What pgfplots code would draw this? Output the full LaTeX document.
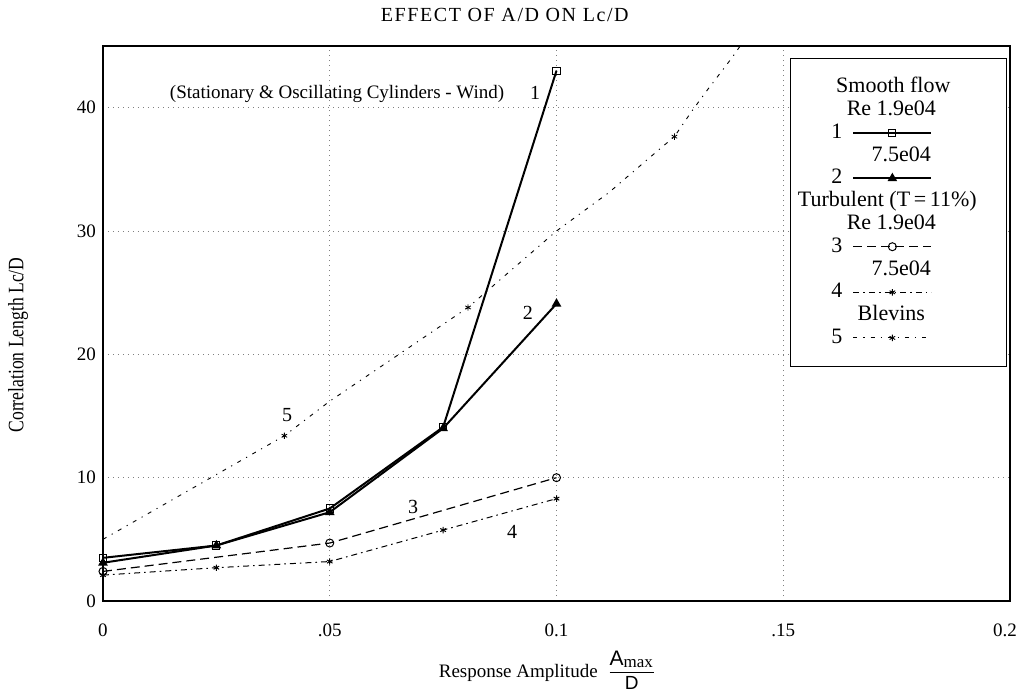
\documentclass[border=0pt]{standalone}
\usepackage{fontspec}
\setmainfont{Liberation Serif}
\setsansfont{Liberation Sans}
\newfontfamily\condfont[FakeStretch=0.8]{Liberation Serif}
\newfontfamily\titlefont[LetterSpace=8]{Liberation Serif}
\usepackage{pgfplots}
\pgfplotsset{compat=1.18}
\begin{document}
\begin{tikzpicture}
\useasboundingbox (-51.5pt,-45pt) rectangle (457.5pt,300.5pt);
\begin{axis}[
  at={(0pt,0pt)}, anchor=south west,
  scale only axis, width=453.5pt, height=277.5pt,
  xmin=0, xmax=0.2, ymin=0, ymax=45,
  xtick={0,0.05,0.1,0.15,0.2}, xticklabels={0,.05,0.1,.15,\hspace*{-5pt}0.2},
  ytick={0,10,20,30,40},
  grid=major,
  grid style={black!50, line width=0.45pt, dash pattern=on 0.5pt off 2pt},
  major tick length=0pt,
  axis line style={line width=0.8pt},
  /pgf/number format/assume math mode=true,
  tick label style={font=\fontsize{9.5}{11}\selectfont},
  xticklabel style={yshift=-8pt},
  clip=false,
  legend plot pos=right,
  legend cell align=left,
  legend style={at={(0.7574,0.978)}, anchor=north west, draw=black, fill=white,
    inner xsep=0pt, inner ysep=9pt, row sep=0.9pt, column sep=5pt,
    nodes={inner sep=0pt, text height=8pt, text depth=2.5pt, font=\fontsize{11}{12}\selectfont}},
  legend image code/.code={\draw[mark repeat=2,mark phase=2,#1] plot coordinates {(0pt,0pt) (19.5pt,0pt) (39pt,0pt)}; \path[draw=none] (0pt,0pt) -- (76.5pt,0pt);},
]
% Series 1: smooth flow Re 1.9e04
\addplot[black, line width=1pt, mark=square, mark size=1.8pt, mark options={solid, line width=0.5pt, fill=white}, forget plot]
  coordinates {(0,3.5) (0.025,4.5) (0.05,7.5) (0.075,14.1) (0.1,43.0)};
% Series 2: smooth flow Re 7.5e04
\addplot[black, line width=1pt, mark=triangle*, mark size=1.8pt, mark options={solid}, forget plot]
  coordinates {(0,3.1) (0.025,4.5) (0.05,7.2) (0.075,14.0) (0.1,24.1)};
% Series 3: turbulent Re 1.9e04
\addplot[black, line width=0.6pt, dash pattern=on 4.5pt off 2.5pt, mark=o, mark size=2pt, mark options={solid, fill=white, line width=0.5pt}, forget plot]
  coordinates {(0,2.4) (0.05,4.7) (0.1,10.0)};
% Series 4: turbulent Re 7.5e04
\addplot[black, line width=0.5pt, dash pattern=on 3pt off 2pt on 0.8pt off 2pt, mark=asterisk, mark size=1.6pt, mark options={solid}, forget plot]
  coordinates {(0,2.1) (0.025,2.7) (0.05,3.2) (0.075,5.75) (0.1,8.3)};
% Series 5: Blevins
\addplot[black, line width=0.45pt, dash pattern=on 2pt off 3pt on 0.6pt off 3pt, forget plot]
  coordinates {(0,5.0) (0.04,13.4) (0.05,16.2) (0.0805,23.8) (0.1,30.0) (0.1115,33.1) (0.1226,36.6) (0.126,37.65) (0.130,39.8) (0.1334,41.5) (0.1387,44.05) (0.1405,45)};
\addplot[black, only marks, mark=asterisk, mark size=1.6pt, forget plot]
  coordinates {(0.04,13.4) (0.0805,23.8) (0.126,37.65)};

% legend
\addlegendimage{empty legend}\addlegendentry{\makebox[0pt][l]{\hspace{51pt}\makebox[0pt]{Smooth flow}}}
\addlegendimage{empty legend}\addlegendentry{\makebox[0pt][l]{\hspace{50pt}\makebox[0pt]{Re 1.9e04}}}
\addlegendimage{black, line width=1pt, mark=square, mark size=1.8pt, mark options={solid, line width=0.5pt, fill=white}}\addlegendentry{\makebox[26pt][r]{1}}
\addlegendimage{empty legend}\addlegendentry{\makebox[0pt][l]{\hspace{55pt}\makebox[0pt]{7.5e04}}}
\addlegendimage{black, line width=1pt, mark=triangle*, mark size=1.8pt, mark options={solid}}\addlegendentry{\makebox[26pt][r]{2}}
\addlegendimage{empty legend}\addlegendentry{\makebox[0pt][l]{\hspace{48pt}\makebox[0pt]{Turbulent (T\,=\,11\%)}}}
\addlegendimage{empty legend}\addlegendentry{\makebox[0pt][l]{\hspace{50pt}\makebox[0pt]{Re 1.9e04}}}
\addlegendimage{black, line width=0.6pt, dash pattern=on 4.5pt off 2.5pt, mark=o, mark size=2pt, mark options={solid, fill=white, line width=0.5pt}}\addlegendentry{\makebox[26pt][r]{3}}
\addlegendimage{empty legend}\addlegendentry{\makebox[0pt][l]{\hspace{55pt}\makebox[0pt]{7.5e04}}}
\addlegendimage{black, line width=0.5pt, dash pattern=on 3pt off 2pt on 0.8pt off 2pt, mark=asterisk, mark size=1.6pt, mark options={solid}}\addlegendentry{\makebox[26pt][r]{4}}
\addlegendimage{empty legend}\addlegendentry{\makebox[0pt][l]{\hspace{50pt}\makebox[0pt]{Blevins}}}
\addlegendimage{black, line width=0.45pt, dash pattern=on 2pt off 3pt on 0.6pt off 3pt, mark=asterisk, mark size=1.6pt, mark options={solid}}\addlegendentry{\makebox[26pt][r]{5}}

% annotations
\node[anchor=west, font=\fontsize{9.5}{10}\selectfont] at (axis cs:0.0132,41.1) {(Stationary \& Oscillating Cylinders - Wind)};
\node[font=\fontsize{10}{11}\selectfont] at (axis cs:0.0953,41.2) {1};
\node[font=\fontsize{10}{11}\selectfont] at (axis cs:0.0937,23.35) {2};
\node[font=\fontsize{10}{11}\selectfont] at (axis cs:0.0684,7.62) {3};
\node[font=\fontsize{10}{11}\selectfont] at (axis cs:0.0902,5.6) {4};
\node[font=\fontsize{10}{11}\selectfont] at (axis cs:0.0406,15.1) {5};
% title
\node[font=\titlefont\fontsize{10}{11}\selectfont] at (axis cs:0.0886,47.5) {EFFECT OF A/D ON Lc/D};
% axis labels
\node[anchor=west, font=\fontsize{9.5}{11}\selectfont] at (axis cs:0.0725,-5.6) {Response Amplitude\ \ $\displaystyle\frac{\mbox{\sffamily\fontsize{10.5}{11}\selectfont A}_{\mbox{\fontsize{8.5}{9}\selectfont max}}}{\mbox{\sffamily\fontsize{9.5}{10}\selectfont D}}$};
\node[rotate=90, font=\condfont\fontsize{11}{12}\selectfont] at (axis cs:-0.01874,20.76) {Correlation Length Lc/D};
\end{axis}
\end{tikzpicture}
\end{document}
